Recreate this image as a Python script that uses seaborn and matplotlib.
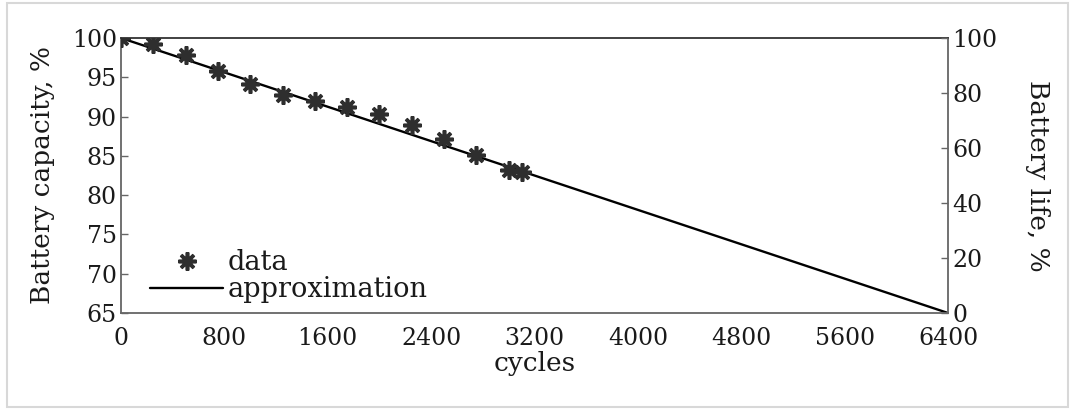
import numpy as np
import pandas as pd
import matplotlib
matplotlib.use('Agg')
import matplotlib.pyplot as plt
import seaborn as sns

sns.set_theme(style='white')
plt.rcParams['font.family'] = ['DejaVu Serif', 'Liberation Serif']

cycles = [0, 250, 500, 750, 1000, 1250, 1500, 1750, 2000, 2250, 2500, 2750, 3000, 3100]
capacity = [100, 99.2, 97.9, 95.8, 94.2, 92.8, 92.0, 91.2, 90.3, 88.9, 87.2, 85.1, 83.2, 83.0]

# Linear approximation endpoints
approx_cycles = [0, 6400]
approx_capacity = [100, 65]

x_ticks = [0, 800, 1600, 2400, 3200, 4000, 4800, 5600, 6400]
y_ticks = [65, 70, 75, 80, 85, 90, 95, 100]
life_ticks = [0, 20, 40, 60, 80, 100]

df_data = pd.DataFrame({'cycles': cycles, 'capacity': capacity})
df_approx = pd.DataFrame({'cycles': approx_cycles, 'capacity': approx_capacity})

fs_tick = 17
fs_label = 19
fs_legend = 19.5

fig = plt.figure(figsize=(10.71, 4.09), dpi=100)
ax = fig.add_axes([121 / 1071, 1 - 313 / 409, 827 / 1071, 275 / 409])

sns.lineplot(data=df_approx, x='cycles', y='capacity', ax=ax, color='black',
             linewidth=1.7, label='approximation', zorder=2)
ax.plot(df_data['cycles'], df_data['capacity'], linestyle='none',
        marker=(8, 2, 0), markersize=13, markeredgewidth=2.6,
        color='#2e2e2e', label='data', zorder=3)

ax.set_xlim(0, 6400)
ax.set_ylim(65, 100)
ax.set_xticks(x_ticks)
ax.set_yticks(y_ticks)
ax.set_xlabel('cycles', fontsize=fs_label, labelpad=1, color='#1a1a1a')
ax.set_ylabel('Battery capacity, %', fontsize=fs_label, labelpad=12, color='#1a1a1a')
ax.tick_params(axis='both', labelsize=fs_tick, direction='in', length=5, width=1,
               color='#666666', labelcolor='#1a1a1a', pad=3)
ax.tick_params(axis='x', pad=10)

for side in ['left', 'right', 'bottom', 'top']:
    ax.spines[side].set_color('#666666')
    ax.spines[side].set_linewidth(1.3)
ax.spines['top'].set_color('#333333')

# Right axis: battery life in percent
ax2 = ax.twinx()
ax2.set_ylim(0, 100)
ax2.set_yticks(life_ticks)
ax2.set_ylabel('Battery life, %', fontsize=fs_label, rotation=270, labelpad=38,
               color='#1a1a1a')
ax2.tick_params(axis='y', labelsize=fs_tick, direction='in', length=5, width=1,
                color='#666666', labelcolor='#1a1a1a', pad=3)
for side in ['left', 'right', 'bottom', 'top']:
    ax2.spines[side].set_visible(False)

handles, labels = ax.get_legend_handles_labels()
order = [labels.index('data'), labels.index('approximation')]
ax.legend([handles[i] for i in order], [labels[i] for i in order],
          loc='lower left', bbox_to_anchor=(0.035, 0.035), frameon=False,
          fontsize=fs_legend, handlelength=2.7, handletextpad=0.15, labelspacing=0.0,
          borderaxespad=0, borderpad=0, labelcolor='#1a1a1a')

# Light frame around the whole picture
fig.patches.append(plt.Rectangle((7 / 1071, 2 / 409), 1061 / 1071, 404 / 409,
                                 transform=fig.transFigure, fill=False,
                                 edgecolor='#d8d8d8', linewidth=1.5))

plt.savefig('out.png', dpi=100)
